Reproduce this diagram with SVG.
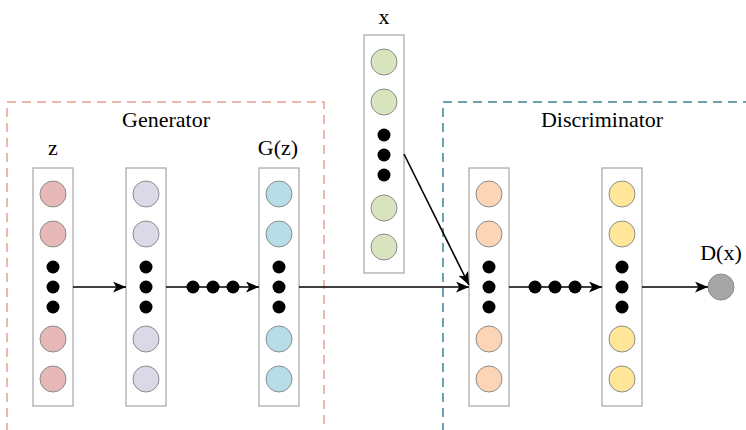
<svg xmlns="http://www.w3.org/2000/svg" width="746" height="430" viewBox="0 0 746 430">
<style>
.lbl{font-family:"Liberation Serif","Times New Roman","DejaVu Serif",serif;font-size:22px;fill:#000;text-anchor:middle}
.col{fill:#fff;stroke:#a6a6a6;stroke-width:1.2}
.n{stroke:#8c8c8c;stroke-width:1}
.d{fill:#000}
.ln{stroke:#000;stroke-width:1.6;fill:none}
.gen{fill:none;stroke:#e3a193;stroke-width:1.5;stroke-dasharray:9,6}
.dis{fill:none;stroke:#3a8496;stroke-width:1.5;stroke-dasharray:9,6}
</style>
<defs>
<marker id="ah" viewBox="0 0 12 10" refX="12" refY="5" markerWidth="13" markerHeight="11" markerUnits="userSpaceOnUse" orient="auto">
<path d="M0,0 L12,5 L0,10 L3,5 z" fill="#000"/>
</marker>
</defs>
<rect width="746" height="430" fill="#fff"/>
<g id="generator-box">
<path class="gen" d="M7,432 V102 H324 V432"/>
<text class="lbl" x="166" y="127">Generator</text>
</g>
<g id="discriminator-box">
<path class="dis" d="M443,432 V102 H750"/>
<text class="lbl" x="602" y="127">Discriminator</text>
</g>
<g id="z-layer">
<text class="lbl" x="53" y="155">z</text>
<rect class="col" x="33" y="168" width="40" height="238"/>
<circle class="n" cx="53" cy="194" r="13" fill="#e6b8b7"/>
<circle class="n" cx="53" cy="234" r="13" fill="#e6b8b7"/>
<circle class="d" cx="53" cy="267" r="6.5"/>
<circle class="d" cx="53" cy="287" r="6.5"/>
<circle class="d" cx="53" cy="307" r="6.5"/>
<circle class="n" cx="53" cy="339" r="13" fill="#e6b8b7"/>
<circle class="n" cx="53" cy="379" r="13" fill="#e6b8b7"/>
</g>
<g id="hidden-layer">
<rect class="col" x="126" y="168" width="40" height="238"/>
<circle class="n" cx="146" cy="194" r="13" fill="#dcd8e8"/>
<circle class="n" cx="146" cy="234" r="13" fill="#dcd8e8"/>
<circle class="d" cx="146" cy="267" r="6.5"/>
<circle class="d" cx="146" cy="287" r="6.5"/>
<circle class="d" cx="146" cy="307" r="6.5"/>
<circle class="n" cx="146" cy="339" r="13" fill="#dcd8e8"/>
<circle class="n" cx="146" cy="379" r="13" fill="#dcd8e8"/>
</g>
<g id="gz-layer">
<text class="lbl" x="278" y="155">G(z)</text>
<rect class="col" x="259" y="168" width="40" height="238"/>
<circle class="n" cx="279" cy="194" r="13" fill="#b7dde8"/>
<circle class="n" cx="279" cy="234" r="13" fill="#b7dde8"/>
<circle class="d" cx="279" cy="267" r="6.5"/>
<circle class="d" cx="279" cy="287" r="6.5"/>
<circle class="d" cx="279" cy="307" r="6.5"/>
<circle class="n" cx="279" cy="339" r="13" fill="#b7dde8"/>
<circle class="n" cx="279" cy="379" r="13" fill="#b7dde8"/>
</g>
<g id="x-layer">
<text class="lbl" x="384" y="24">x</text>
<rect class="col" x="364" y="35" width="40" height="238"/>
<circle class="n" cx="384" cy="62" r="13" fill="#d7e4bd"/>
<circle class="n" cx="384" cy="102" r="13" fill="#d7e4bd"/>
<circle class="d" cx="384" cy="135" r="6.5"/>
<circle class="d" cx="384" cy="155" r="6.5"/>
<circle class="d" cx="384" cy="175" r="6.5"/>
<circle class="n" cx="384" cy="208" r="13" fill="#d7e4bd"/>
<circle class="n" cx="384" cy="247" r="13" fill="#d7e4bd"/>
</g>
<g id="d-layer1">
<rect class="col" x="469" y="168" width="40" height="238"/>
<circle class="n" cx="489" cy="194" r="13" fill="#fbd5b5"/>
<circle class="n" cx="489" cy="234" r="13" fill="#fbd5b5"/>
<circle class="d" cx="489" cy="267" r="6.5"/>
<circle class="d" cx="489" cy="287" r="6.5"/>
<circle class="d" cx="489" cy="307" r="6.5"/>
<circle class="n" cx="489" cy="339" r="13" fill="#fbd5b5"/>
<circle class="n" cx="489" cy="379" r="13" fill="#fbd5b5"/>
</g>
<g id="d-layer2">
<rect class="col" x="602" y="168" width="40" height="238"/>
<circle class="n" cx="622" cy="194" r="13" fill="#ffe699"/>
<circle class="n" cx="622" cy="234" r="13" fill="#ffe699"/>
<circle class="d" cx="622" cy="267" r="6.5"/>
<circle class="d" cx="622" cy="287" r="6.5"/>
<circle class="d" cx="622" cy="307" r="6.5"/>
<circle class="n" cx="622" cy="339" r="13" fill="#ffe699"/>
<circle class="n" cx="622" cy="379" r="13" fill="#ffe699"/>
</g>
<g id="output">
<text class="lbl" x="721" y="260">D(x)</text>
<circle class="n" cx="721" cy="287" r="13" fill="#a6a6a6"/>
</g>
<g id="connectors">
<line class="ln" x1="73" y1="287" x2="126" y2="287" marker-end="url(#ah)"/>
<line class="ln" x1="166" y1="287" x2="259" y2="287" marker-end="url(#ah)"/>
<circle class="d" cx="193" cy="287" r="6.5"/>
<circle class="d" cx="213" cy="287" r="6.5"/>
<circle class="d" cx="233" cy="287" r="6.5"/>
<line class="ln" x1="299" y1="287" x2="469" y2="287" marker-end="url(#ah)"/>
<line class="ln" x1="404" y1="154" x2="469" y2="285" marker-end="url(#ah)"/>
<line class="ln" x1="509" y1="287" x2="602" y2="287" marker-end="url(#ah)"/>
<circle class="d" cx="535" cy="287" r="6.5"/>
<circle class="d" cx="555" cy="287" r="6.5"/>
<circle class="d" cx="575" cy="287" r="6.5"/>
<line class="ln" x1="642" y1="287" x2="708" y2="287" marker-end="url(#ah)"/>
</g>
</svg>
